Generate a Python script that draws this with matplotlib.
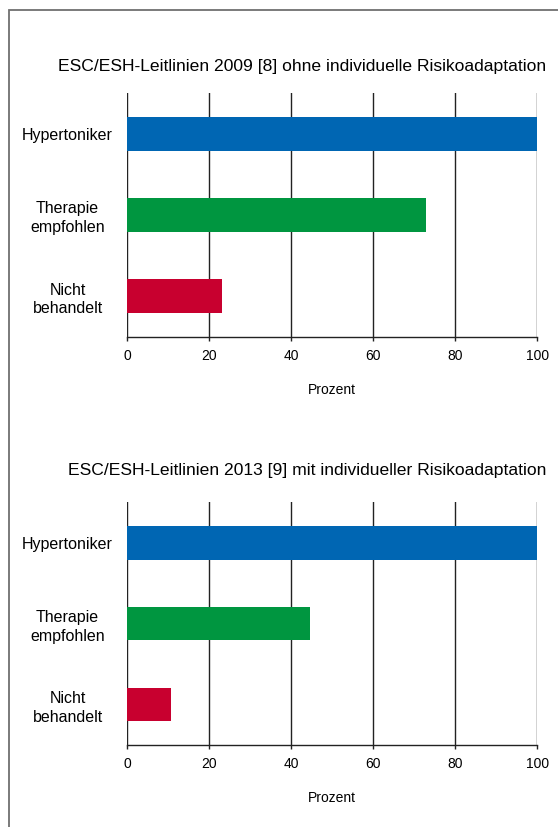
import numpy as np
import matplotlib.pyplot as plt
from matplotlib.patches import Rectangle

plt.rcParams['font.family'] = ['Liberation Sans', 'DejaVu Sans']

categories = ['Hypertoniker', 'Therapie\nempfohlen', 'Nicht\nbehandelt']
values_2009 = [100, 72.8, 23.1]
values_2013 = [100, 44.5, 10.7]
bar_colors = ['#0066b3', '#009640', '#c8002f']
titles = ['ESC/ESH-Leitlinien 2009 [8] ohne individuelle Risikoadaptation',
          'ESC/ESH-Leitlinien 2013 [9] mit individueller Risikoadaptation']
xticks = [0, 20, 40, 60, 80, 100]

fig = plt.figure(figsize=(5.58, 8.27), dpi=100)

# grey frame, cut off at right and bottom edge like the original
fig.patches.append(Rectangle((9 / 558, -0.1), 1.2, 1.1 - 10 / 827, transform=fig.transFigure,
                             fill=False, edgecolor='#707070', lw=1.3, zorder=0))

axes_pos = [[0.2281, 0.5929, 0.7348, 0.2943],
            [0.2281, 0.0992, 0.7348, 0.2934]]
title_y = [1 - 67 / 827, 1 - 471 / 827]

for pos, vals, title, ty in zip(axes_pos, [values_2009, values_2013], titles, title_y):
    ax = fig.add_axes(pos)
    y = np.arange(len(categories))
    ax.barh(y, vals, height=0.415, color=bar_colors, zorder=3)
    ax.set_xlim(0, 100)
    ax.set_ylim(2.5, -0.5)
    ax.set_xticks(xticks)
    ax.set_xticklabels([str(t) for t in xticks], fontsize=10)
    ax.set_yticks(y)
    ax.set_yticklabels(categories, fontsize=11.5, ha='center', multialignment='center',
                       linespacing=1.3)
    ax.tick_params(axis='y', length=0, pad=43)
    ax.tick_params(axis='x', length=3, width=1, color='#222222', pad=6)
    ax.xaxis.grid(True, color='#222222', lw=1, zorder=1)
    for s in ['top', 'right', 'left']:
        ax.spines[s].set_visible(False)
    ax.spines['bottom'].set_color('#222222')
    ax.spines['bottom'].set_linewidth(1)
    ax.set_xlabel('Prozent', fontsize=10, labelpad=14)
    fig.text(546 / 558, ty, title, fontsize=12.6, ha='right', va='center')

fig.savefig('out.png', dpi=100)
